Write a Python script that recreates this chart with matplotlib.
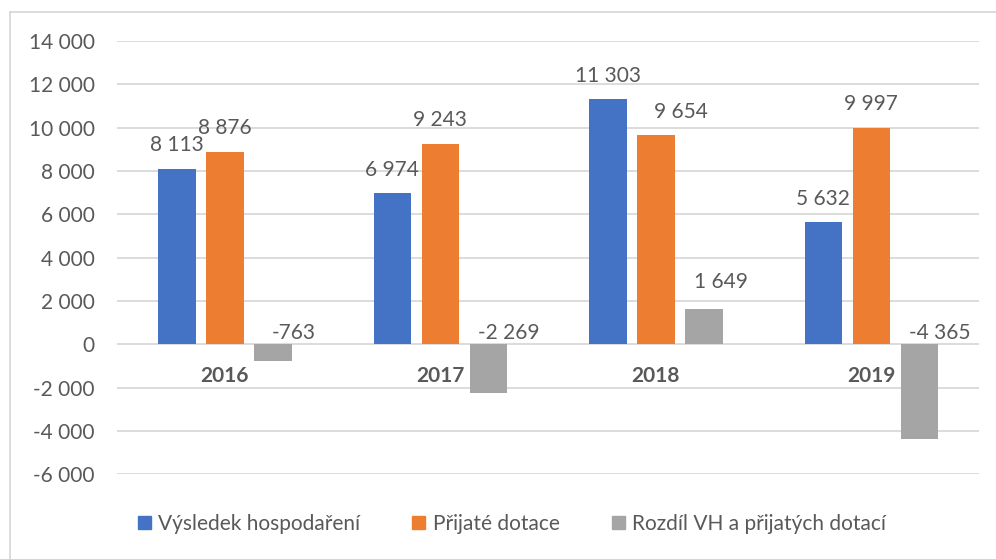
import numpy as np
import matplotlib.pyplot as plt
from matplotlib.patches import Patch
from matplotlib.lines import Line2D

#=====DATA================#
years = ["2016", "2017", "2018", "2019"]
series_names = ["Výsledek hospodaření", "Přijaté dotace", "Rozdíl VH a přijatých dotací"]
vysledek = [8113, 6974, 11303, 5632]
dotace = [8876, 9243, 9654, 9997]
rozdil = [-763, -2269, 1649, -4365]
yticks = [-6000, -4000, -2000, 0, 2000, 4000, 6000, 8000, 10000, 12000, 14000]
colors = ["#4472C4", "#ED7D31", "#A5A5A5"]
#=========================#

TXT = "#595959"
GRID = "#D9D9D9"
plt.rcParams['font.family'] = ['Lato', 'DejaVu Sans']


def fmt(v):
    """thousands separated by a space, like the Czech Excel output"""
    return f"{v:,}".replace(",", " ")


fig = plt.figure(figsize=(9.96, 5.59), dpi=100)
ax = fig.add_axes([0.1175, 0.1515, 0.8655, 0.7752])

x = np.arange(len(years))
step = 0.2227
width = 0.174
data = [vysledek, dotace, rozdil]

for j, vals in enumerate(data):
    pos = x + (j - 1) * step
    ax.bar(pos, vals, width, color=colors[j], zorder=3)
    for i, (p, v) in enumerate(zip(pos, vals)):
        if j < 2:
            # Excel nudged the 2018 orange label sideways to dodge 11 303
            dx = 18 if (j == 1 and i == 2) else 0
            ax.annotate(fmt(v), (p, v), xytext=(dx, 17), textcoords="offset points",
                        ha="center", va="center", fontsize=15, color=TXT)
        elif v >= 0:
            ax.annotate(fmt(v), (p, v), xytext=(12, 19), textcoords="offset points",
                        ha="center", va="center", fontsize=15, color=TXT)
        else:
            ax.annotate(fmt(v), (p, 0), xytext=(15, 8), textcoords="offset points",
                        ha="center", va="center", fontsize=15, color=TXT)

# category labels sit just under the zero line
for i, yr in enumerate(years):
    ax.annotate(yr, (i, 0), xytext=(0, -23), textcoords="offset points",
                ha="center", va="center", fontsize=15, fontweight="bold", color=TXT)

ax.set_xlim(-0.5, len(years) - 0.5)
ax.set_ylim(-6000, 14000)
ax.set_yticks(yticks)
ax.set_yticklabels([fmt(t) for t in yticks], fontsize=15, color=TXT)
ax.set_xticks([])
ax.tick_params(axis="y", length=0, pad=16)
ax.grid(axis="y", color=GRID, lw=1.3, zorder=0)
for s in ax.spines.values():
    s.set_visible(False)

# chart frame (top and left edge visible in the crop)
fig.add_artist(Line2D([10 / 996, 1], [1 - 12 / 559, 1 - 12 / 559], color=GRID, lw=1.3))
fig.add_artist(Line2D([10 / 996, 10 / 996], [0, 1 - 12 / 559], color=GRID, lw=1.3))

handles = [Patch(color=c) for c in colors]
fig.legend(handles, series_names, loc="center", bbox_to_anchor=(0.514, 0.0626), ncol=3,
           frameon=False, fontsize=15, labelcolor=TXT, handlelength=0.63, handleheight=0.63,
           handletextpad=0.35, columnspacing=2.5)

fig.savefig("out.png", dpi=100)
